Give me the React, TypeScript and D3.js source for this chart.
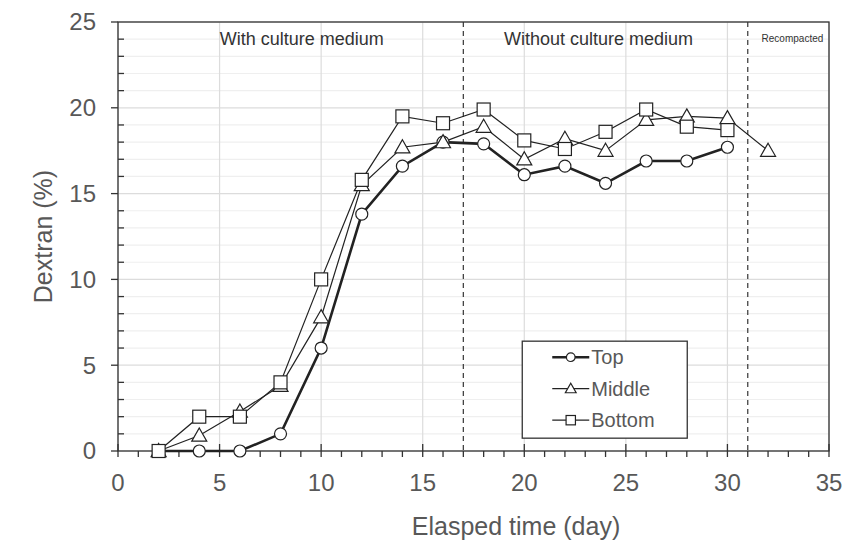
import React from "react";
import * as d3 from "d3";

// Data
const days = [2, 4, 6, 8, 10, 12, 14, 16, 18, 20, 22, 24, 26, 28, 30];
const daysMiddle = [2, 4, 6, 8, 10, 12, 14, 16, 18, 20, 22, 24, 26, 28, 30, 32];
const topValues = [0, 0, 0, 1, 6, 13.8, 16.6, 18.0, 17.9, 16.1, 16.6, 15.6, 16.9, 16.9, 17.7];
const middleValues = [0, 0.9, 2.3, 3.8, 7.8, 15.5, 17.7, 18.0, 18.9, 17.0, 18.2, 17.5, 19.3, 19.5, 19.4, 17.5];
const bottomValues = [0, 2.0, 2.0, 4.0, 10.0, 15.8, 19.5, 19.1, 19.9, 18.1, 17.6, 18.6, 19.9, 18.9, 18.7];
const xTicks = [0, 5, 10, 15, 20, 25, 30, 35];
const yTicks = [0, 5, 10, 15, 20, 25];
const phaseBreaks = [17, 31];
const phaseLabels = [
  { text: "With culture medium", at: 9.05, size: 18 },
  { text: "Without culture medium", at: 23.65, size: 18 },
  { text: "Recompacted", at: 33.2, size: 10 },
];

const W = 846;
const H = 543;
const margin = { top: 22, right: 17, bottom: 92, left: 118 };
const font = "'Liberation Sans', Arial, sans-serif";
const textColor = "#585858";

type Pt = { x: number; y: number };
const zip = (xs: number[], ys: number[]): Pt[] => ys.map((y, i) => ({ x: xs[i], y }));

const series = [
  { name: "Top", data: zip(days, topValues), marker: "circle", width: 2.6 },
  { name: "Middle", data: zip(daysMiddle, middleValues), marker: "triangle", width: 1.2 },
  { name: "Bottom", data: zip(days, bottomValues), marker: "square", width: 1.2 },
];

const Marker = ({ type, cx, cy, s = 1 }: { type: string; cx: number; cy: number; s?: number }) => {
  const common = { fill: "white", stroke: "#222", strokeWidth: 1.2 };
  if (type === "circle") return <circle cx={cx} cy={cy} r={6 * s} {...common} />;
  if (type === "square")
    return <rect x={cx - 6.5 * s} y={cy - 6.5 * s} width={13 * s} height={13 * s} {...common} />;
  const r = 7.5 * s;
  return (
    <path
      d={`M${cx},${cy - r} L${cx + r},${cy + r * 0.75} L${cx - r},${cy + r * 0.75} Z`}
      {...common}
    />
  );
};

export default function App() {
  const iw = W - margin.left - margin.right;
  const ih = H - margin.top - margin.bottom;
  const x = d3.scaleLinear().domain([0, 35]).range([0, iw]);
  const y = d3.scaleLinear().domain([0, 25]).range([ih, 0]);
  const line = d3
    .line<Pt>()
    .x((d) => x(d.x))
    .y((d) => y(d.y));

  const minorY = d3.range(0, 25.01, 1);
  const minorX = d3.range(0, 35.01, 1);

  return (
    <svg width={W} height={H} style={{ position: "absolute", left: 0, top: 0 }}>
      <g transform={`translate(${margin.left},${margin.top})`}>
        {/* gridlines */}
        {minorY.map((v) => (
          <line key={"gy" + v} x1={0} x2={iw} y1={y(v)} y2={y(v)}
            stroke={v % 5 === 0 ? "#dcdcdc" : "#efefef"} strokeWidth={1.2} />
        ))}
        {xTicks.map((v) => (
          <line key={"gx" + v} x1={x(v)} x2={x(v)} y1={0} y2={ih} stroke="#dcdcdc" strokeWidth={1.2} />
        ))}

        {/* phase separators */}
        {phaseBreaks.map((v) => (
          <line key={"pb" + v} x1={x(v)} x2={x(v)} y1={0} y2={ih}
            stroke="#444" strokeWidth={1.3} strokeDasharray="5,4" />
        ))}
        {phaseLabels.map((p) => (
          <text key={p.text} x={x(p.at)} y={p.size > 12 ? 23 : 20} textAnchor="middle" fontFamily={font}
            fontSize={p.size} fill="#333">{p.text}</text>
        ))}

        {/* frame */}
        <rect x={0} y={0} width={iw} height={ih} fill="none" stroke="#333" strokeWidth={1.3} />

        {/* y ticks */}
        {minorY.map((v) => (
          <line key={"ty" + v} x1={v % 5 === 0 ? -7 : 0} x2={v % 5 === 0 ? 0 : 6} y1={y(v)} y2={y(v)}
            stroke="#333" strokeWidth={1.3} />
        ))}
        {yTicks.map((v) => (
          <text key={"ly" + v} x={-22} y={y(v)} dy="0.35em" textAnchor="end" fontFamily={font}
            fontSize={24} fill={textColor}>{v}</text>
        ))}

        {/* x ticks */}
        {minorX.map((v) => (
          <line key={"tx" + v} x1={x(v)} x2={x(v)} y1={v % 5 === 0 ? ih - 7 : ih} y2={ih + 6}
            stroke="#333" strokeWidth={1.3} />
        ))}
        {xTicks.map((v) => (
          <text key={"lx" + v} x={x(v)} y={ih + 40} textAnchor="middle" fontFamily={font}
            fontSize={24} fill={textColor}>{v}</text>
        ))}

        {/* series */}
        {series.map((s) => (
          <path key={s.name} d={line(s.data) || ""} fill="none" stroke="#222" strokeWidth={s.width} />
        ))}
        {series.map((s) =>
          s.data.map((d, i) => (
            <Marker key={s.name + i} type={s.marker} cx={x(d.x)} cy={y(d.y)} />
          ))
        )}

        {/* legend */}
        <g transform={`translate(${x(19.9)},${y(6.4)})`}>
          <rect x={0} y={0} width={165} height={97} fill="white" stroke="#333" strokeWidth={1.3} />
          {series.map((s, i) => (
            <g key={"lg" + s.name} transform={`translate(0,${16 + i * 31.5})`}>
              <line x1={30} x2={67} y1={0} y2={0} stroke="#222" strokeWidth={s.width} />
              <Marker type={s.marker} cx={48.5} cy={0} s={0.72} />
              <text x={69} y={0} dy="0.35em" fontFamily={font} fontSize={20} fill={textColor}>
                {s.name}
              </text>
            </g>
          ))}
        </g>
      </g>

      {/* axis titles */}
      <text x={516} y={H - 8} textAnchor="middle" fontFamily={font}
        fontSize={25} fill={textColor}>Elasped time (day)</text>
      <text transform={`translate(43,${margin.top + ih / 2}) rotate(-90)`} textAnchor="middle"
        dy="0.35em" fontFamily={font} fontSize={25} fill={textColor}>Dextran (%)</text>
    </svg>
  );
}
